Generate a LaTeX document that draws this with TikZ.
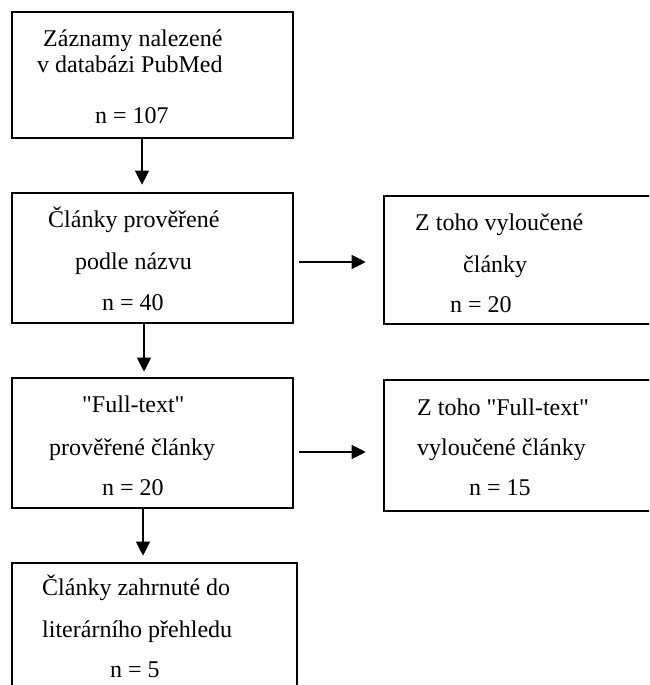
\documentclass[tikz,border=0pt]{standalone}
\usepackage{fontspec}
\setmainfont{Liberation Serif}[Ligatures=TeXOff]
\usetikzlibrary{arrows.meta}
\begin{document}
\begin{tikzpicture}[x=1pt,y=-1pt,
  box/.style={draw, line width=2.6pt, rectangle, inner sep=0pt},
  txt/.style={anchor=base west, inner sep=0pt, font=\fontsize{24}{28}\selectfont},
  arr/.style={line width=1.1pt, -{Triangle[length=14pt,width=14pt]}}]
\useasboundingbox (0,0) rectangle (649,685);
\clip (0,0) rectangle (649,685);
\fill[white] (0,0) rectangle (649,685);
% boxes
\node[box, minimum width=281pt, minimum height=126pt] (b1) at (152.5,75) {};
\node[box, minimum width=281pt, minimum height=130pt] (b2) at (152.5,258) {};
\node[box, minimum width=281pt, minimum height=130pt] (b3) at (152.5,443) {};
\node[box, minimum width=285pt, minimum height=137pt] (b4) at (154.5,631.5) {};
\node[box, minimum width=276pt, minimum height=128pt] (r2) at (522,260) {};
\node[box, minimum width=276pt, minimum height=131pt] (r3) at (522,445.5) {};
% texts
\node[txt] (t1a) at (43,47) {Záznamy nalezené};
\node[txt] (t1b) at (37,72) {v databázi PubMed};
\node[txt] (t1c) at (95,123) {n = 107};
\node[txt] (t2a) at (48,227) {Články prověřené};
\node[txt] (t2b) at (75,269) {podle názvu};
\node[txt] (t2c) at (102,310) {n = 40};
\node[txt] (r2a) at (415,230) {Z toho vyloučené};
\node[txt] (r2b) at (463,272) {články};
\node[txt] (r2c) at (450,312) {n = 20};
\node[txt] (t3a) at (82,412) {"Full-text"};
\node[txt] (t3b) at (49,455) {prověřené články};
\node[txt] (t3c) at (102,495) {n = 20};
\node[txt] (r3a) at (417,415) {Z toho "Full-text"};
\node[txt] (r3b) at (417,455) {vyloučené články};
\node[txt] (r3c) at (469,495) {n = 15};
\node[txt] (t4a) at (42,595) {Články zahrnuté do};
\node[txt] (t4b) at (42,637) {literárního přehledu};
\node[txt] (t4c) at (110,677) {n = 5};
% arrows
\draw[arr] ([shift={(-10.5,0)}]b1.south) -- ([shift={(-10.5,-7)}]b2.north);
\draw[arr] ([shift={(-8.5,0)}]b2.south) -- ([shift={(-8.5,-5)}]b3.north);
\draw[arr] ([shift={(-9.5,0)}]b3.south) -- ([shift={(-11.5,-6)}]b4.north);
\draw[arr] ([shift={(5,4)}]b2.east) -- ([shift={(-17,2)}]r2.west);
\draw[arr] ([shift={(5,9)}]b3.east) -- ([shift={(-17,6.5)}]r3.west);
\end{tikzpicture}
\end{document}
